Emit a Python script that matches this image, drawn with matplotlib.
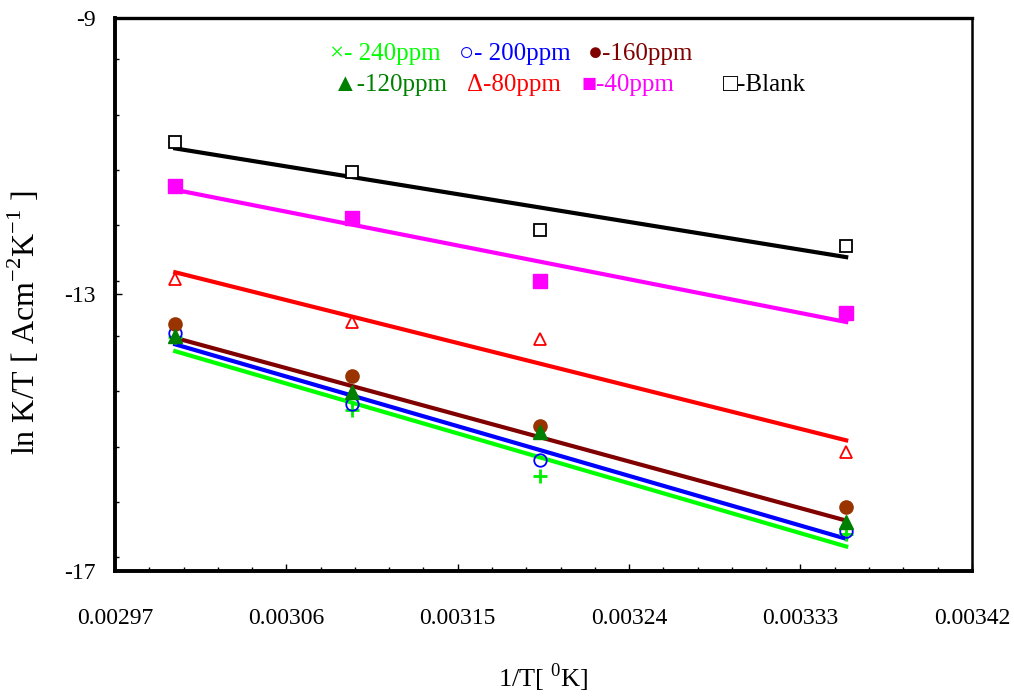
import numpy as np
import matplotlib
matplotlib.use("Agg")
import matplotlib.pyplot as plt
from matplotlib.ticker import MultipleLocator

plt.rcParams["font.family"] = ["Liberation Serif", "DejaVu Serif"]
plt.rcParams["mathtext.fontset"] = "custom"
plt.rcParams["mathtext.rm"] = "Liberation Serif"
plt.rcParams["axes.unicode_minus"] = False

# temperatures (K) -> 1/T
temps = [333.15, 323.15, 313.15, 298.15]
inv_t = [1 / t for t in temps]

blank = [-10.79, -11.23, -12.07, -12.30]
ppm40 = [-11.43, -11.89, -12.81, -13.27]
ppm80 = [-12.78, -13.40, -13.65, -15.28]
ppm120 = [-13.60, -14.41, -14.99, -16.29]
ppm160 = [-13.43, -14.18, -14.90, -16.08]
ppm200 = [-13.56, -14.59, -15.40, -16.42]
ppm240 = [-13.62, -14.67, -15.63, -16.47]

# (values, marker, marker colour, fit line colour, hollow)
series = [
    (ppm240, "+", "#00ee00", "#00ff00", False),
    (ppm200, "o", "#0000ff", "#0000ff", True),
    (ppm160, "o", "#993300", None, False),
    (ppm120, "^", "#008000", "#800000", False),
    (ppm80, "^", "#ff0000", "#ff0000", True),
    (ppm40, "s", "#ff00ff", "#ff00ff", False),
    (blank, "s", "#000000", "#000000", True),
]

fig = plt.figure(figsize=(10.14, 6.97), dpi=100)
ax = fig.add_axes([0.1134, 0.1808, 0.845, 0.7934])

x = np.array(inv_t)
for ys, mk, mc, lc, hollow in series:
    if lc is not None:
        k, b = np.polyfit(x, ys, 1)
        ax.plot([x[0], x[-1]], [k*x[0]+b, k*x[-1]+b], c=lc, lw=3, zorder=2)
for ys, mk, mc, lc, hollow in series:
    if hollow:
        ax.plot(x, ys, mk, ms=9, mfc="white" if mk == "s" else "none",
                mec=mc, mew=1.3, ls="none", zorder=3)
    elif mk == "+":
        ax.plot(x, ys, mk, ms=10, mec=mc, mew=2, ls="none", zorder=3)
    else:
        ax.plot(x, ys, mk, ms=9.5, mfc=mc, mec=mc, ls="none", zorder=3)

ax.set_xlim(0.00297, 0.00342)
ax.set_ylim(-17, -9)
ax.set_xticks([0.00297, 0.00306, 0.00315, 0.00324, 0.00333, 0.00342])
ax.set_xticklabels(["0.00297", "0.00306", "0.00315", "0.00324", "0.00333", "0.00342"])
ax.xaxis.set_minor_locator(MultipleLocator(0.000018))
ax.set_yticks([-17, -13, -9])
ax.set_yticklabels(["-17", "-13", "-9"])
ax.yaxis.set_minor_locator(MultipleLocator(0.8))
ax.tick_params(axis="both", which="both", direction="in", width=1.0, labelsize=17)
ax.tick_params(axis="both", which="major", length=5)
ax.tick_params(axis="both", which="minor", length=3)
ax.tick_params(axis="x", which="major", pad=27)
ax.tick_params(axis="y", which="major", pad=14)
ax.spines["left"].set_linewidth(2.8)
ax.spines["bottom"].set_linewidth(2.8)
ax.spines["top"].set_linewidth(2.4)
ax.spines["right"].set_linewidth(1.8)

ax.set_ylabel("ln K/T [ Acm$^{-2}$K$^{-1}$ ]", fontsize=23)
ax.yaxis.set_label_coords(-0.085, 0.45)
ax.set_xlabel("1/T[ $^{0}$K]", fontsize=19, labelpad=23)

fs = 18
r1, r2 = 0.935, 0.878
ax.text(0.2506, r1, "×- 240ppm", color="#00ff00", fontsize=fs, transform=ax.transAxes, va="center")
ax.text(0.402, r1, "○- 200ppm", color="#0000ff", fontsize=fs, transform=ax.transAxes, va="center")
ax.text(0.5524, r1, "●-160ppm", color="#800000", fontsize=fs, transform=ax.transAxes, va="center")
ax.text(0.254, r2, "▲-120ppm", color="#008000", fontsize=fs, transform=ax.transAxes, va="center")
ax.text(0.411, r2, "Δ-80ppm", color="#ff0000", fontsize=fs, transform=ax.transAxes, va="center")
ax.text(0.544, r2, "■-40ppm", color="#ff00ff", fontsize=fs, transform=ax.transAxes, va="center")
ax.text(0.710, r2, "□-Blank", color="#000000", fontsize=fs, transform=ax.transAxes, va="center")

fig.savefig("out.png", dpi=100)
